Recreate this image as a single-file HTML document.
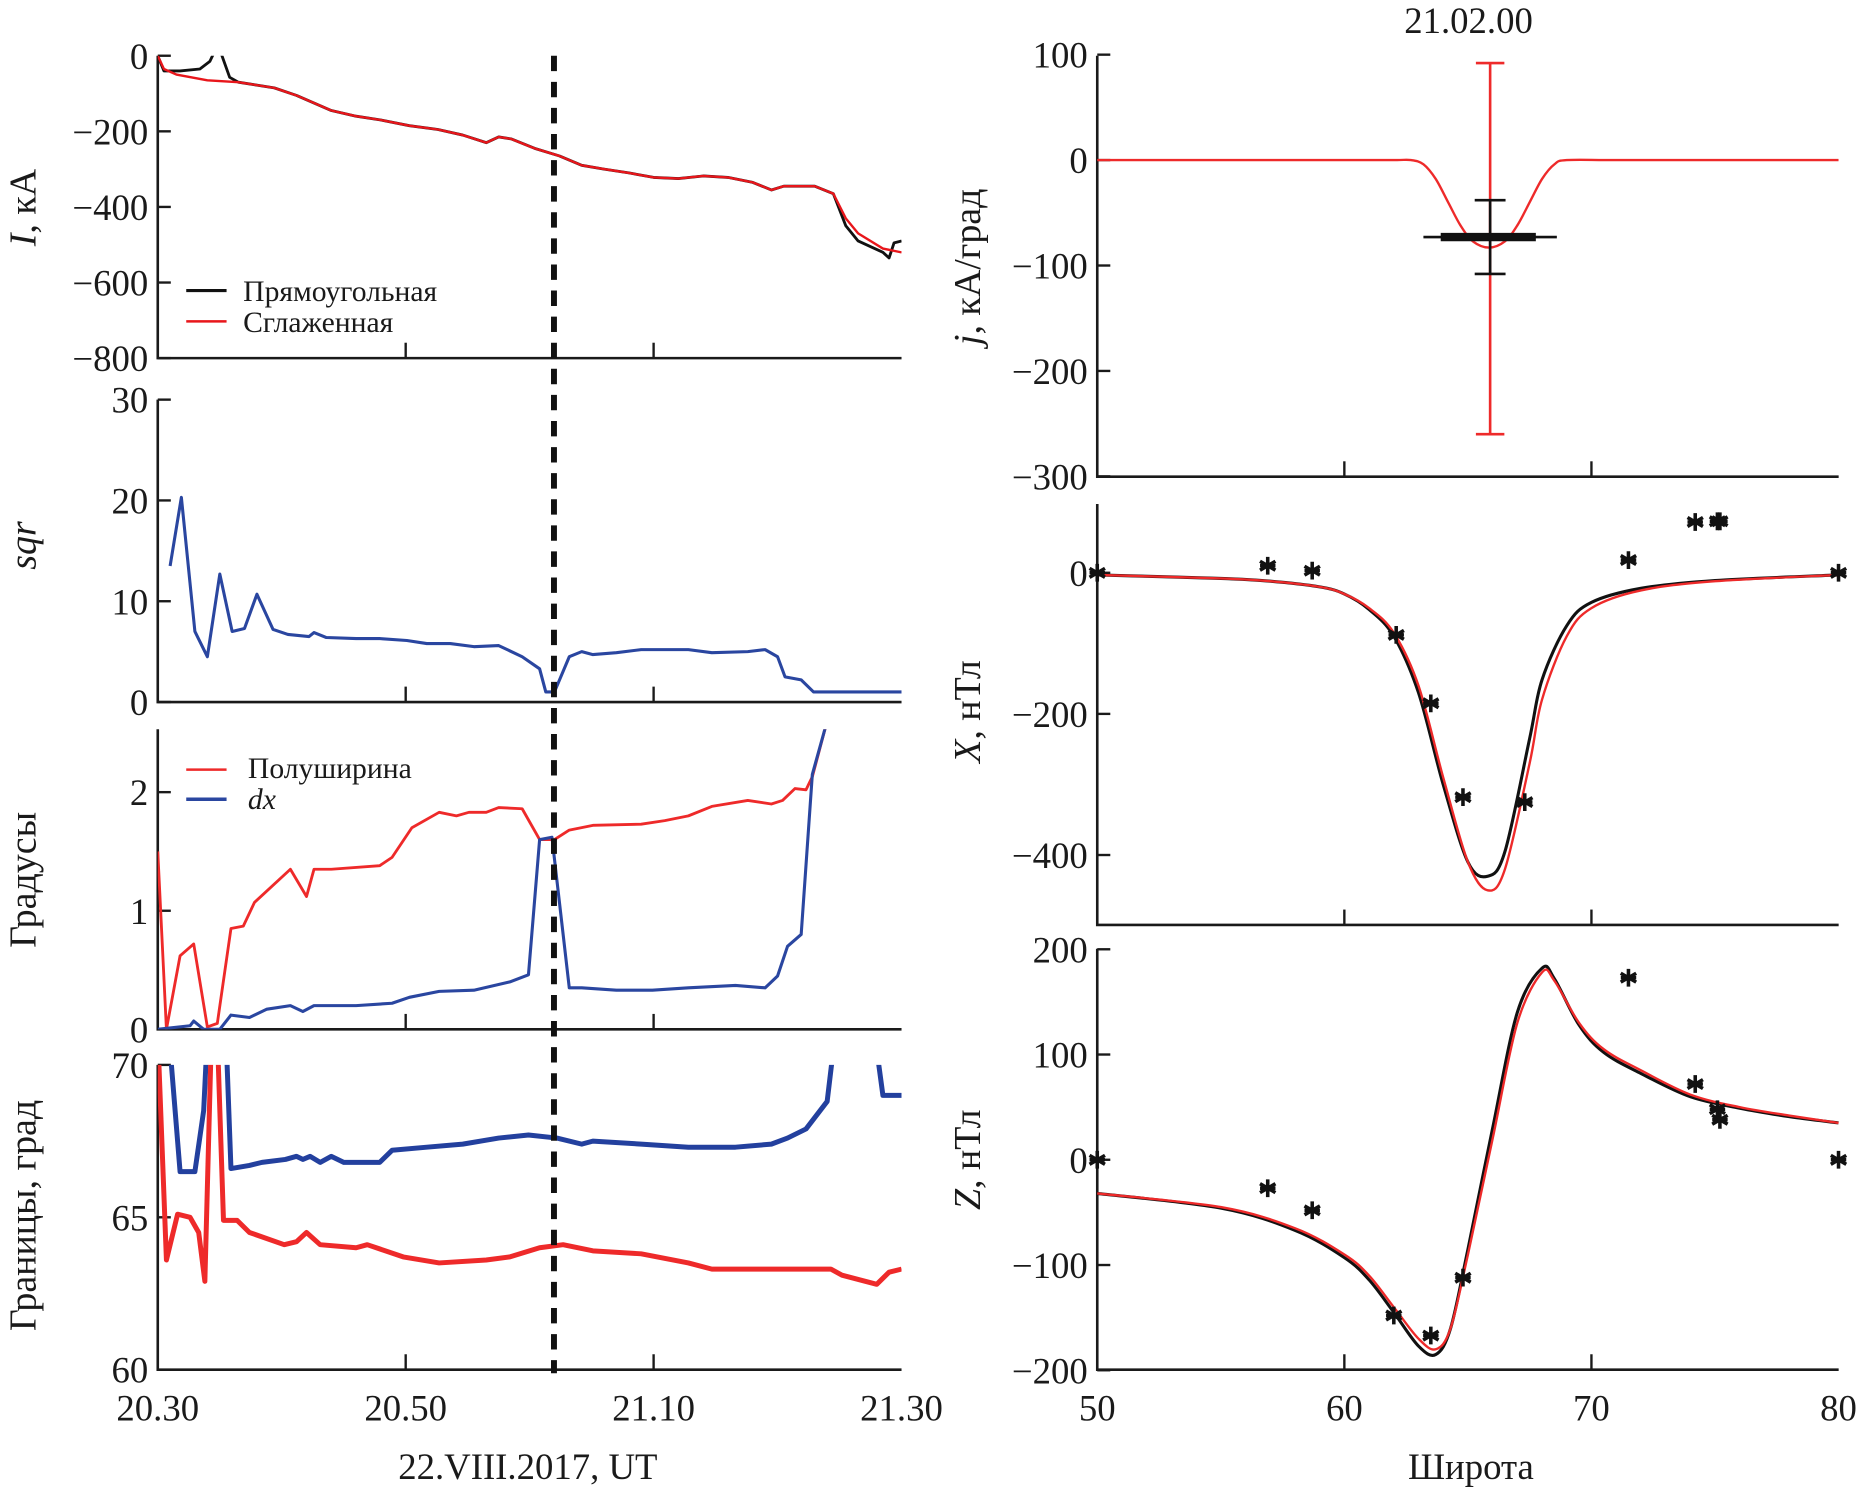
<!DOCTYPE html>
<html><head><meta charset="utf-8"><style>
html,body{margin:0;padding:0;background:#fff}
svg{display:block}
text{font-family:"Liberation Serif",serif;fill:#1a1a1a}
</style></head><body>
<svg id="chart" width="1860" height="1493" viewBox="0 0 1568 1259" preserveAspectRatio="none" xmlns="http://www.w3.org/2000/svg">
<defs>
<clipPath id="cL1"><rect x="133" y="47" width="627" height="255"/></clipPath>
<clipPath id="cL2"><rect x="133" y="337" width="627" height="255"/></clipPath>
<clipPath id="cL3"><rect x="133" y="615" width="627" height="253"/></clipPath>
<clipPath id="cL4"><rect x="133" y="898" width="627" height="257"/></clipPath>
</defs>
<g id="g"></g>
</svg>
<script>
// ---- data ----
const iRedT=[0,0.5,1.5,4,6.5,9.4,11.2,14,16,18,20.3,22.6,24.6,26.5,27.5,28.5,30.4,32.4,34.2,36,38,40,42,44,46,48,49.5,50.5,53,54.5,55.5,56.5,58.5,60];
const iRedV=[0,-35,-50,-65,-70,-85,-105,-145,-160,-170,-185,-195,-210,-230,-215,-220,-245,-265,-290,-300,-310,-322,-325,-318,-322,-335,-355,-345,-345,-365,-430,-470,-510,-520];
const iBlkT=[0,0.5,1.8,3.4,4.2,4.85,5.8,6.5,9.4,11.2,14,16,18,20.3,22.6,24.6,26.5,27.5,28.5,30.4,32.4,34.2,36,38,40,42,44,46,48,49.5,50.5,53,54.5,55.5,56.5,58.5,59,59.4,60];
const iBlkV=[0,-40,-40,-35,-15,30,-57,-70,-85,-105,-145,-160,-170,-185,-195,-210,-230,-215,-220,-245,-265,-290,-300,-310,-322,-325,-318,-322,-335,-355,-345,-345,-365,-450,-490,-520,-535,-495,-490];
const sqrT=[1,1.9,3,4,5,6,7,8,9.3,10.5,12.2,12.6,13.6,16,17.9,20.1,21.7,23.6,25.5,27.5,29.4,30.8,31.3,32,33.2,34.2,35.1,37,39,42.8,44.7,47.6,49,50,50.6,51.9,52.9,60];
const sqrV=[13.5,20.3,7,4.5,12.7,7,7.3,10.7,7.2,6.7,6.5,6.9,6.4,6.3,6.3,6.1,5.8,5.8,5.5,5.6,4.5,3.3,1,1,4.5,5,4.7,4.9,5.2,5.2,4.9,5.0,5.2,4.5,2.5,2.2,1,1];
const hwT=[0,0.7,1.8,2.9,4,4.8,5.9,6.9,7.8,10.7,12,12.6,14,17.9,18.9,20.5,22.7,24.1,25.1,26.5,27.5,29.4,30.8,32,33.2,35.1,39,40.9,42.8,44.7,47.6,49.5,50.4,51.4,52.3,52.8,54];
const hwV=[1.5,0,0.62,0.72,0.02,0.05,0.85,0.87,1.07,1.35,1.12,1.35,1.35,1.38,1.45,1.7,1.83,1.8,1.83,1.83,1.87,1.86,1.6,1.6,1.68,1.72,1.73,1.76,1.8,1.88,1.93,1.9,1.93,2.03,2.02,2.13,2.6];
const dxT=[0,2.6,2.9,3.7,5,5.9,7.4,8.8,10.7,11.7,12.6,16,18.9,20.3,22.7,25.5,28.4,29.9,30.8,31.8,33.2,34.2,37,39.9,42.8,46.6,49,50,50.8,51.9,52.8,54];
const dxV=[0,0.03,0.07,0,0,0.12,0.1,0.17,0.2,0.15,0.2,0.2,0.22,0.27,0.32,0.33,0.4,0.46,1.6,1.62,0.35,0.35,0.33,0.33,0.35,0.37,0.35,0.45,0.7,0.8,2.15,2.6];
const bPolT=[0,1.1,1.8,3,3.7,4,4.5,5,5.5,5.9,7.4,8.4,10.3,11.2,11.7,12.3,13.1,14,15,17.9,18.9,21.7,24.6,27.5,29.9,32.2,34.2,35.1,39,42.8,46.6,49.5,50.8,52.3,54,54.5,56,58,58.5,60];
const bPolV=[71,70,66.5,66.5,68.5,71,72,71,71,66.6,66.7,66.8,66.9,67,66.9,67,66.8,67,66.8,66.8,67.2,67.3,67.4,67.6,67.7,67.6,67.4,67.5,67.4,67.3,67.3,67.4,67.6,67.9,68.8,70.5,72,70.5,69,69];
const bEqT=[0,0.7,1.6,2.6,3.3,3.8,4.3,4.8,5.3,6.4,7.4,10.2,11.2,12,13.1,16,16.9,19.8,22.7,26.5,28.4,30.8,32.7,35.1,39,42.8,44.7,48.5,54.3,55.2,58,59,60];
const bEqV=[71,63.6,65.1,65,64.5,62.9,70.5,71,64.9,64.9,64.5,64.1,64.2,64.5,64.1,64.0,64.1,63.7,63.5,63.6,63.7,64.0,64.1,63.9,63.8,63.5,63.3,63.3,63.3,63.1,62.8,63.2,63.3];
const jLat=[50,55,60,62,62.7,63.2,63.7,64.2,64.7,65.2,65.85,66.5,67,67.5,68,68.5,69,71,75,80];
const jVal=[0,0,0,0,0,-4,-18,-40,-62,-77,-83,-77,-62,-40,-18,-4,0,0,0,0];
const jErrLat=65.9, jRedHi=92, jRedLo=-260, jBlkHi=-38, jBlkLo=-108, jBlkVal=-73, jLatLo=63.2, jLatHi=68.6, jLatLoIn=63.9, jLatHiIn=67.75;
const xLat=[50,55,57,59,60,61,62,63,64,65,65.8,66.5,67.5,68,69,70,72,75,80];
const xRed=[-3,-8,-12,-20,-30,-50,-85,-160,-290,-410,-450,-420,-270,-180,-90,-50,-25,-12,-3];
const xBlk=[-3,-8,-12,-20,-30,-52,-90,-170,-300,-410,-430,-395,-235,-152,-75,-42,-22,-11,-3];
const xStarLat=[50,56.9,58.7,62.1,63.5,64.8,67.3,71.5,74.2,75.1,75.2,80];
const xStarVal=[0,10,3,-88,-185,-318,-325,18,72,73,73,0];
const zLat=[50,55,58,60,61,62,63,63.7,64.3,65,66,67,68,68.5,69.5,70.5,72,74,76,78,80];
const zRed=[-32,-45,-65,-90,-110,-140,-170,-180,-160,-90,20,130,178,170,130,105,85,62,50,42,35];
const zBlk=[-32,-46,-67,-93,-114,-145,-177,-185,-160,-85,30,140,182,172,128,102,82,60,49,41,35];
const zStarLat=[50,56.9,58.7,62,63.5,64.8,71.5,74.2,75.1,75.2,80];
const zStarVal=[0,-27,-48,-148,-167,-112,173,72,48,38,0];
const timeTicks=["20.30","20.50","21.10","21.30"];
const latTicks=[50,60,70,80];

// ---- helpers ----
const NS="http://www.w3.org/2000/svg";
const G=document.getElementById('g');
function el(tag,attrs,parent){const e=document.createElementNS(NS,tag);for(const k in attrs)e.setAttribute(k,attrs[k]);(parent||G).appendChild(e);return e;}
const tx=t=>133+t*10.45;
const lx=l=>925+(l-50)*20.83;
const yI=v=>47-v*(255/800);
const yS=v=>592-v*8.5;
const yD=v=>868-v*100;
const yB=v=>1155-(v-60)*25.7;
const yJ=v=>135-v*0.889;
const yX=v=>483-v*0.595;
const yZ=v=>978-v*0.8875;
function line(xs,ys,fx,fy,color,w,name,clip,smooth){
  const P=xs.map((x,i)=>[fx(x),fy(ys[i])]);
  let p='M'+P[0][0].toFixed(1)+','+P[0][1].toFixed(1);
  for(let i=1;i<P.length;i++){
    if(smooth){
      const p0=P[Math.max(0,i-2)],p1=P[i-1],p2=P[i],p3=P[Math.min(P.length-1,i+1)];
      const c1=[p1[0]+(p2[0]-p0[0])/6,p1[1]+(p2[1]-p0[1])/6];
      const c2=[p2[0]-(p3[0]-p1[0])/6,p2[1]-(p3[1]-p1[1])/6];
      p+=`C${c1[0].toFixed(1)},${c1[1].toFixed(1)} ${c2[0].toFixed(1)},${c2[1].toFixed(1)} ${p2[0].toFixed(1)},${p2[1].toFixed(1)}`;
    } else p+='L'+P[i][0].toFixed(1)+','+P[i][1].toFixed(1);
  }
  const e=el('path',{d:p,fill:'none',stroke:color,'stroke-width':w,'stroke-linejoin':'round'});
  if(clip)e.setAttribute('clip-path','url(#'+clip+')');
  
  
  return e;
}
function txt(x,y,s,size,anchor,name,extra){
  const e=el('text',Object.assign({x:x,y:y,'font-size':size,'text-anchor':anchor||'middle'},extra||{}));
  e.textContent=s;
  
  
  return e;
}
function axes(x0,x1,yTop,yBot,name){
  const a=el('path',{d:`M${x0},${yTop}V${yBot}H${x1}`,fill:'none',stroke:'#1a1a1a','stroke-width':2.2});
  
  
}
function ytick(x,y,label,name){
  el('path',{d:`M${x},${y}h11`,stroke:'#1a1a1a','stroke-width':2});
  txt(x-8,y+11,label,31,'end',name);
}
function xtickMark(x,yb){el('path',{d:`M${x},${yb}v-13`,stroke:'#1a1a1a','stroke-width':2});}
function star(x,y,name){
  let d='';for(let k=0;k<3;k++){const a=Math.PI/3*k+Math.PI/2;const dx=Math.cos(a)*7.5,dy=Math.sin(a)*7.5;d+=`M${(x-dx).toFixed(1)},${(y-dy).toFixed(1)}L${(x+dx).toFixed(1)},${(y+dy).toFixed(1)}`;}
  d+=`M${x-6.5},${y}L${x+6.5},${y}`;
  const e=el('path',{d:d,stroke:'#111','stroke-width':3});
  
  
}

// ---- left panels ----
const LP=[[47,302],[337,592],[615,868],[898,1155]];
LP.forEach((p,i)=>{axes(133,760,p[0],p[1],'left-panel-'+(i+1)+'-axes');xtickMark(tx(20),p[1]);xtickMark(tx(40),p[1]);});
[0,-200,-400,-600,-800].forEach(v=>ytick(133,yI(v),v<0?'\u2212'+(-v):''+v,'i-y-tick'));
[0,10,20,30].forEach(v=>ytick(133,yS(v),''+v,'sqr-y-tick'));
[0,1,2].forEach(v=>ytick(133,yD(v),''+v,'deg-y-tick'));
[60,65,70].forEach(v=>ytick(133,yB(v),''+v,'bound-y-tick'));
timeTicks.forEach((s,i)=>txt(tx(i*20),1198,s,31,'middle','time-x-tick'));
txt(445,1247,'22.VIII.2017, UT',31,'middle','time-x-title');

line(iBlkT,iBlkV,tx,yI,'#111',2.4,'i-rectangular-line','cL1');
line(iRedT,iRedV,tx,yI,'#e8161b',2,'i-smoothed-line','cL1');
line(sqrT,sqrV,tx,yS,'#2a46a0',2.6,'sqr-line','cL2');
line(hwT,hwV,tx,yD,'#ee2a2a',2.4,'halfwidth-line','cL3');
line(dxT,dxV,tx,yD,'#2a46a0',2.6,'dx-line','cL3');
line(bPolT,bPolV,tx,yB,'#23409e',4.2,'poleward-boundary-line','cL4');
line(bEqT,bEqV,tx,yB,'#ee2a2a',4.2,'equatorward-boundary-line','cL4');

// legends
el('path',{d:'M157,245h34',stroke:'#111','stroke-width':2.6});
txt(205,254,'Прямоугольная',25,'start','legend-rectangular');
el('path',{d:'M157,271h34',stroke:'#e8161b','stroke-width':2.2});
txt(205,280,'Сглаженная',25,'start','legend-smoothed');
el('path',{d:'M157,649h34',stroke:'#ee2a2a','stroke-width':2.2});
txt(209,656,'Полуширина',25,'start','legend-halfwidth');
el('path',{d:'M157,674h34',stroke:'#2a46a0','stroke-width':3});
txt(209,682,'dx',25,'start','legend-dx',{'font-style':'italic'});

// y titles
function vtitle(x,y,parts,name){
  const e=el('text',{x:0,y:0,'font-size':32,'text-anchor':'middle',transform:`translate(${x},${y}) rotate(-90)`});
  parts.forEach(p=>{const s=el('tspan',{},e);if(p[1])s.setAttribute('font-style','italic');s.textContent=p[0];});
  
  
}
vtitle(30,175,[['I',1],[', кА',0]],'i-y-title');
vtitle(30,460,[['sqr',1]],'sqr-y-title');
vtitle(30,742,[['Градусы',0]],'deg-y-title');
vtitle(30,1025,[['Границы, град',0]],'bound-y-title');

// dashed line
const dl=el('path',{d:'M467,47V1158',stroke:'#111','stroke-width':5,'stroke-dasharray':'13,9'});



// ---- right panels ----
const RP=[[47,402],[425,780],[800,1155]];
RP.forEach((p,i)=>{axes(925,1550,p[0],p[1],'right-panel-'+(i+1)+'-axes');xtickMark(lx(60),p[1]);xtickMark(lx(70),p[1]);});
[100,0,-100,-200,-300].forEach(v=>ytick(925,yJ(v),v<0?'\u2212'+(-v):''+v,'j-y-tick'));
[0,-200,-400].forEach(v=>ytick(925,yX(v),v<0?'\u2212'+(-v):''+v,'x-y-tick'));
[200,100,0,-100,-200].forEach(v=>ytick(925,yZ(v),v<0?'\u2212'+(-v):''+v,'z-y-tick'));
latTicks.forEach(v=>txt(lx(v),1198,''+v,31,'middle','lat-x-tick'));
txt(1240,1247,'Широта',31,'middle','lat-x-title');
txt(1238,28,'21.02.00',31,'middle','j-panel-title');
vtitle(826,225,[['j',1],[', кА/град',0]],'j-y-title');
vtitle(826,600,[['X',1],[', нТл',0]],'x-y-title');
vtitle(826,978,[['Z',1],[', нТл',0]],'z-y-title');

line(jLat,jVal,lx,yJ,'#ee2a2a',2,'j-profile-line',null,true);
const ex=lx(jErrLat);
let e1=el('path',{d:`M${ex},${yJ(jRedHi)}V${yJ(jRedLo)}M${ex-12},${yJ(jRedHi)}h24M${ex-12},${yJ(jRedLo)}h24`,stroke:'#ee2a2a','stroke-width':2.2,fill:'none'});


let e2=el('path',{d:`M${ex},${yJ(jBlkHi)}V${yJ(jBlkLo)}M${ex-13},${yJ(jBlkHi)}h26M${ex-13},${yJ(jBlkLo)}h26M${lx(jLatLo)},${yJ(jBlkVal)}H${lx(jLatHi)}`,stroke:'#111','stroke-width':2.2,fill:'none'});


let e3=el('path',{d:`M${lx(jLatLoIn)},${yJ(jBlkVal)}H${lx(jLatHiIn)}`,stroke:'#111','stroke-width':7});



line(xLat,xBlk,lx,yX,'#111',2.6,'x-model-black-line',null,true);
line(xLat,xRed,lx,yX,'#ee2a2a',2,'x-model-red-line',null,true);
xStarLat.forEach((l,i)=>star(lx(l),yX(xStarVal[i]),'x-observed-point'));
line(zLat,zBlk,lx,yZ,'#111',2.6,'z-model-black-line',null,true);
line(zLat,zRed,lx,yZ,'#ee2a2a',2,'z-model-red-line',null,true);
zStarLat.forEach((l,i)=>star(lx(l),yZ(zStarVal[i]),'z-observed-point'));
</script>
</body></html>
